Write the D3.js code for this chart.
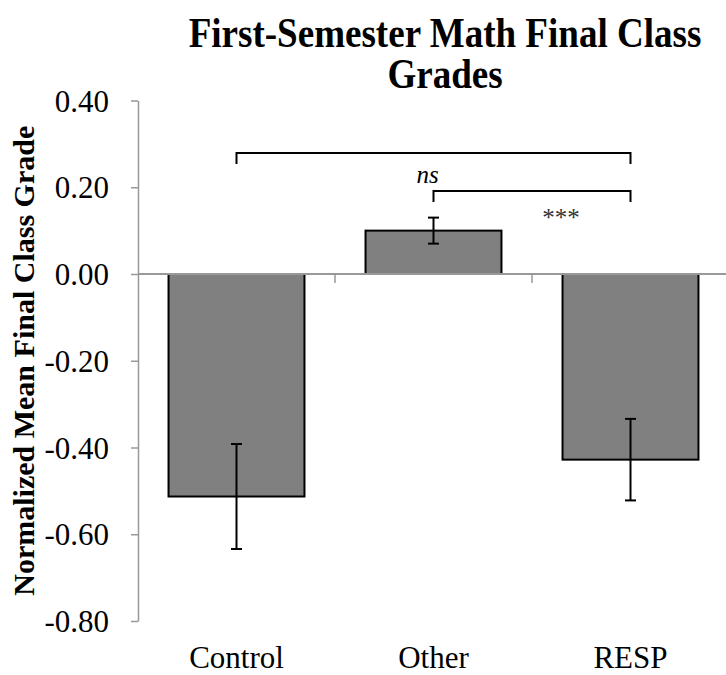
<!DOCTYPE html>
<html>
<head>
<meta charset="utf-8">
<script src="https://cdn.jsdelivr.net/npm/d3@7"></script>
<style>
  body { margin: 0; background: #fff; }
  svg { display: block; }
  svg text { font-family: "Liberation Serif", "Times New Roman", serif; }
</style>
</head>
<body>
<div id="chart"></div>
<script>
// chart data
var categories = ["Control", "Other", "RESP"];
var means = [-0.513, 0.10, -0.428];
var errors = [0.121, 0.03, 0.094];
var yTicks = [-0.80, -0.60, -0.40, -0.20, 0.00, 0.20, 0.40];

// significance brackets (from, to, label)
var bracketFrom = ["Control", "Other"];
var bracketTo = ["RESP", "RESP"];
var bracketLabels = ["ns", "***"];

var width = 726, height = 675;
var serif = "'Liberation Serif', 'Times New Roman', serif";

var svg = d3.select("#chart").append("svg")
  .attr("width", width)
  .attr("height", height);

// scales
var x = d3.scaleBand()
  .domain(categories)
  .range([138, 729])
  .paddingInner(0.31)
  .paddingOuter(0.155);

var y = d3.scaleLinear()
  .domain([-0.8, 0.4])
  .range([621, 100.5]);

var fmt = d3.formatLocale({decimal: ".", thousands: ",", grouping: [3], currency: ["", ""], minus: "-"}).format(".2f");

// title (text a bit taller than wide, like the original)
svg.append("text")
  .attr("transform", "translate(445,47) scale(0.95,1.06)")
  .attr("text-anchor", "middle")
  .style("font-family", serif)
  .style("font-size", "39px").style("font-weight", "bold")
  .text("First-Semester Math Final Class");
svg.append("text")
  .attr("transform", "translate(445,88) scale(0.95,1.06)")
  .attr("text-anchor", "middle")
  .style("font-family", serif)
  .style("font-size", "39px").style("font-weight", "bold")
  .text("Grades");

// y axis title
svg.append("text")
  .attr("transform", "translate(34," + y(-0.2) + ") rotate(-90)")
  .attr("text-anchor", "middle")
  .style("font-family", serif)
  .style("font-size", "30px").style("font-weight", "bold")
  .text("Normalized Mean Final Class Grade");

// bars
svg.selectAll(".bar")
  .data(categories)
  .enter().append("rect")
  .attr("class", "bar")
  .attr("x", function(d) { return x(d); })
  .attr("width", x.bandwidth())
  .attr("y", function(d, i) { return y(Math.max(0, means[i])); })
  .attr("height", function(d, i) { return Math.abs(y(means[i]) - y(0)); })
  .attr("fill", "#808080")
  .attr("stroke", "#000")
  .attr("stroke-width", 2);

// y axis
var yAxis = svg.append("g")
  .attr("transform", "translate(138,0)")
  .call(d3.axisLeft(y).tickValues(yTicks).tickFormat(fmt).tickSize(7).tickSizeOuter(0).tickPadding(22));
yAxis.select(".domain").attr("stroke", "#999").attr("stroke-width", 1.5);
yAxis.selectAll(".tick line").attr("stroke", "#999").attr("stroke-width", 1.5);
yAxis.selectAll(".tick text")
  .attr("fill", "#000")
  .attr("dy", "0.34em")
  .style("font-family", serif)
  .style("font-size", "31px");

// x axis along zero
var xAxis = svg.append("g")
  .attr("transform", "translate(0," + y(0) + ")");
xAxis.append("line")
  .attr("x1", 138).attr("x2", width)
  .attr("stroke", "#999").attr("stroke-width", 2);
xAxis.selectAll(".xtick")
  .data(categories.slice(1))
  .enter().append("line")
  .attr("class", "xtick")
  .attr("x1", function(d) { return x(d) - x.step() * x.paddingInner() / 2; })
  .attr("x2", function(d) { return x(d) - x.step() * x.paddingInner() / 2; })
  .attr("y1", 0).attr("y2", 9)
  .attr("stroke", "#999").attr("stroke-width", 1.5);

// category labels
svg.selectAll(".cat")
  .data(categories)
  .enter().append("text")
  .attr("class", "cat")
  .attr("x", function(d) { return x(d) + x.bandwidth() / 2; })
  .attr("y", 668)
  .attr("text-anchor", "middle")
  .style("font-family", serif)
  .style("font-size", "31px")
  .text(function(d) { return d; });

// error bars
var capW = 5.5;
var err = svg.selectAll(".err")
  .data(categories)
  .enter().append("g")
  .attr("class", "err")
  .attr("stroke", "#000")
  .attr("stroke-width", 2);
err.append("line")
  .attr("x1", function(d) { return x(d) + x.bandwidth() / 2; })
  .attr("x2", function(d) { return x(d) + x.bandwidth() / 2; })
  .attr("y1", function(d, i) { return y(means[i] + errors[i]); })
  .attr("y2", function(d, i) { return y(means[i] - errors[i]); });
err.append("line")
  .attr("x1", function(d) { return x(d) + x.bandwidth() / 2 - capW; })
  .attr("x2", function(d) { return x(d) + x.bandwidth() / 2 + capW; })
  .attr("y1", function(d, i) { return y(means[i] + errors[i]); })
  .attr("y2", function(d, i) { return y(means[i] + errors[i]); });
err.append("line")
  .attr("x1", function(d) { return x(d) + x.bandwidth() / 2 - capW; })
  .attr("x2", function(d) { return x(d) + x.bandwidth() / 2 + capW; })
  .attr("y1", function(d, i) { return y(means[i] - errors[i]); })
  .attr("y2", function(d, i) { return y(means[i] - errors[i]); });

// significance brackets
var bracketY = [153, 191];
var cx = function(d) { return x(d) + x.bandwidth() / 2; };
for (var i = 0; i < bracketFrom.length; i++) {
  var x1 = cx(bracketFrom[i]), x2 = cx(bracketTo[i]), by = bracketY[i];
  svg.append("path")
    .attr("d", "M" + x1 + "," + (by + 11) + "V" + by + "H" + x2 + "V" + (by + 11))
    .attr("fill", "none")
    .attr("stroke", "#000")
    .attr("stroke-width", 2);
}

svg.append("text")
  .attr("x", cx("Other") - 6).attr("y", 183)
  .attr("text-anchor", "middle")
  .style("font-family", serif)
  .style("font-size", "25px").style("font-style", "italic")
  .text(bracketLabels[0]);

svg.append("text")
  .attr("x", 561).attr("y", 226)
  .attr("text-anchor", "middle")
  .attr("fill", "#333")
  .style("font-family", serif)
  .style("font-size", "25px")
  .text(bracketLabels[1]);
</script>
</body>
</html>
